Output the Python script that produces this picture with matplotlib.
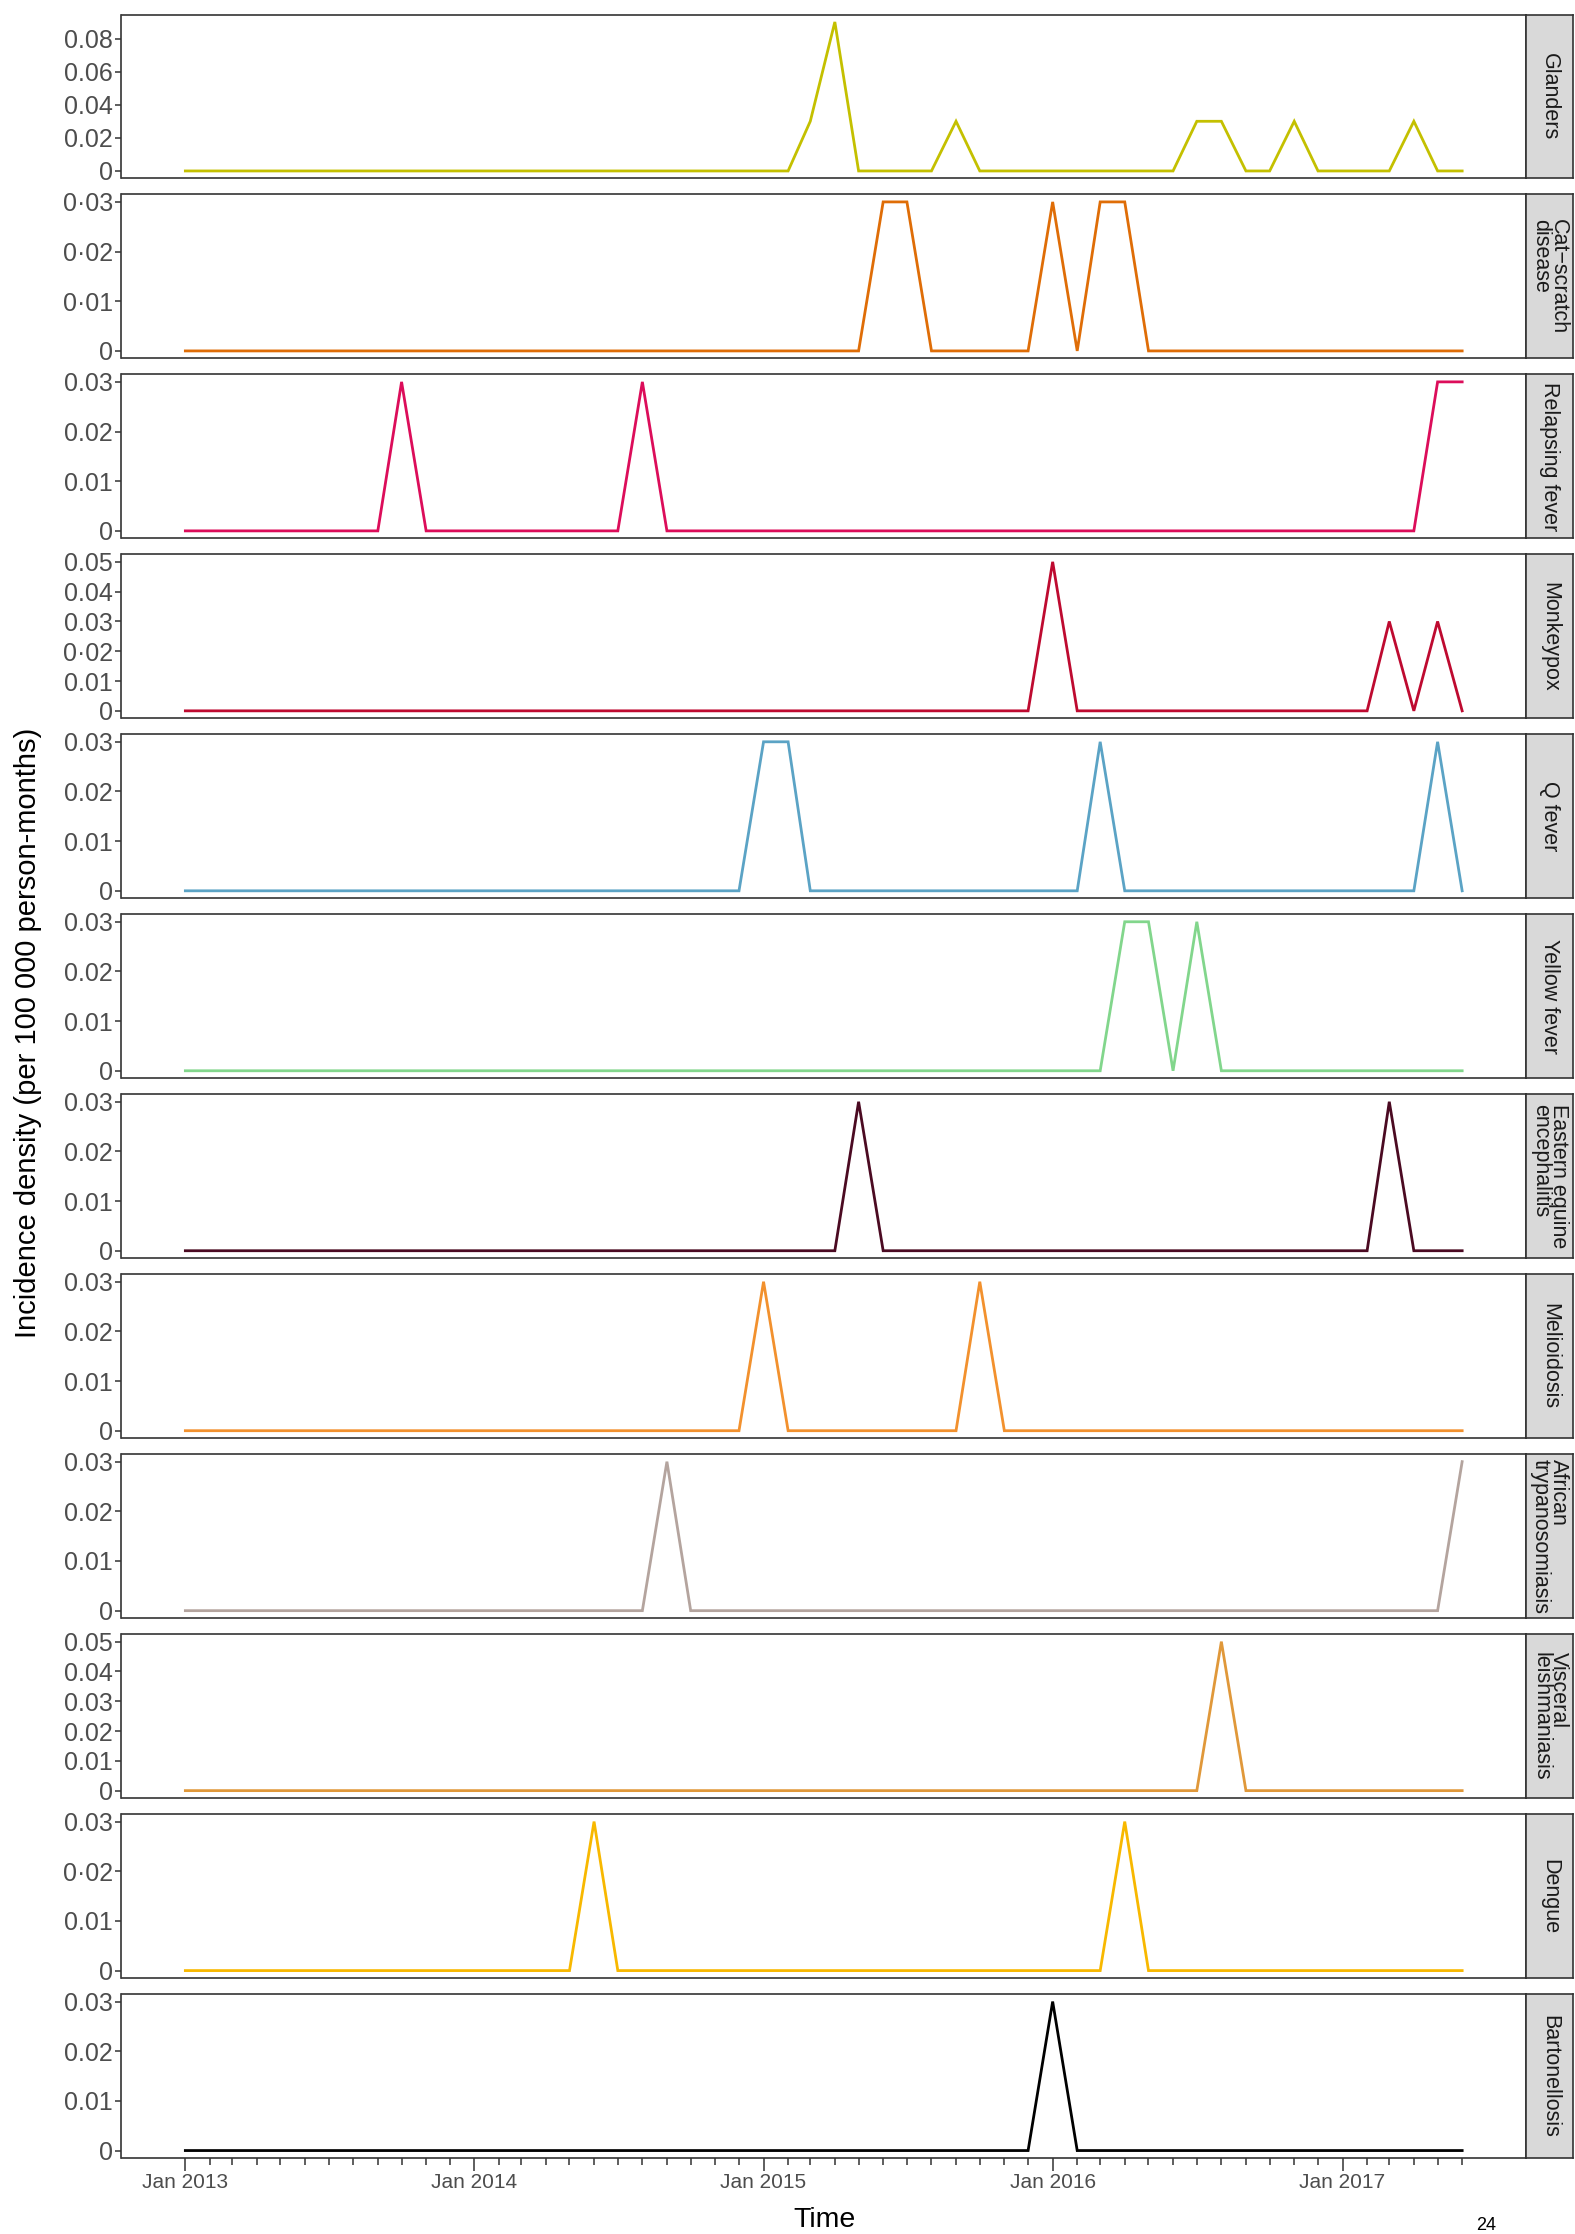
import numpy as np
import pandas as pd
import matplotlib
matplotlib.use("Agg")
import matplotlib.pyplot as plt
import matplotlib.dates as mdates
from matplotlib.ticker import FixedLocator, FixedFormatter, NullLocator

plt.rcParams['font.family'] = ['Liberation Sans', 'DejaVu Sans']

# monthly values, Jan 2013 .. Jun 2017 (one row per year)
glanders = [
    0, 0, 0, 0, 0, 0, 0, 0, 0, 0, 0, 0,
    0, 0, 0, 0, 0, 0, 0, 0, 0, 0, 0, 0,
    0, 0, 0.03, 0.09, 0, 0, 0, 0, 0.03, 0, 0, 0,
    0, 0, 0, 0, 0, 0, 0.03, 0.03, 0, 0, 0.03, 0,
    0, 0, 0, 0.03, 0, 0,
]
cat_scratch = [
    0, 0, 0, 0, 0, 0, 0, 0, 0, 0, 0, 0,
    0, 0, 0, 0, 0, 0, 0, 0, 0, 0, 0, 0,
    0, 0, 0, 0, 0, 0.03, 0.03, 0, 0, 0, 0, 0,
    0.03, 0, 0.03, 0.03, 0, 0, 0, 0, 0, 0, 0, 0,
    0, 0, 0, 0, 0, 0,
]
relapsing = [
    0, 0, 0, 0, 0, 0, 0, 0, 0, 0.03, 0, 0,
    0, 0, 0, 0, 0, 0, 0, 0.03, 0, 0, 0, 0,
    0, 0, 0, 0, 0, 0, 0, 0, 0, 0, 0, 0,
    0, 0, 0, 0, 0, 0, 0, 0, 0, 0, 0, 0,
    0, 0, 0, 0, 0.03, 0.03,
]
monkeypox = [
    0, 0, 0, 0, 0, 0, 0, 0, 0, 0, 0, 0,
    0, 0, 0, 0, 0, 0, 0, 0, 0, 0, 0, 0,
    0, 0, 0, 0, 0, 0, 0, 0, 0, 0, 0, 0,
    0.05, 0, 0, 0, 0, 0, 0, 0, 0, 0, 0, 0,
    0, 0, 0.03, 0, 0.03, 0,
]
q_fever = [
    0, 0, 0, 0, 0, 0, 0, 0, 0, 0, 0, 0,
    0, 0, 0, 0, 0, 0, 0, 0, 0, 0, 0, 0,
    0.03, 0.03, 0, 0, 0, 0, 0, 0, 0, 0, 0, 0,
    0, 0, 0.03, 0, 0, 0, 0, 0, 0, 0, 0, 0,
    0, 0, 0, 0, 0.03, 0,
]
yellow_fever = [
    0, 0, 0, 0, 0, 0, 0, 0, 0, 0, 0, 0,
    0, 0, 0, 0, 0, 0, 0, 0, 0, 0, 0, 0,
    0, 0, 0, 0, 0, 0, 0, 0, 0, 0, 0, 0,
    0, 0, 0, 0.03, 0.03, 0, 0.03, 0, 0, 0, 0, 0,
    0, 0, 0, 0, 0, 0,
]
eee = [
    0, 0, 0, 0, 0, 0, 0, 0, 0, 0, 0, 0,
    0, 0, 0, 0, 0, 0, 0, 0, 0, 0, 0, 0,
    0, 0, 0, 0, 0.03, 0, 0, 0, 0, 0, 0, 0,
    0, 0, 0, 0, 0, 0, 0, 0, 0, 0, 0, 0,
    0, 0, 0.03, 0, 0, 0,
]
melioidosis = [
    0, 0, 0, 0, 0, 0, 0, 0, 0, 0, 0, 0,
    0, 0, 0, 0, 0, 0, 0, 0, 0, 0, 0, 0,
    0.03, 0, 0, 0, 0, 0, 0, 0, 0, 0.03, 0, 0,
    0, 0, 0, 0, 0, 0, 0, 0, 0, 0, 0, 0,
    0, 0, 0, 0, 0, 0,
]
african_tryp = [
    0, 0, 0, 0, 0, 0, 0, 0, 0, 0, 0, 0,
    0, 0, 0, 0, 0, 0, 0, 0, 0.03, 0, 0, 0,
    0, 0, 0, 0, 0, 0, 0, 0, 0, 0, 0, 0,
    0, 0, 0, 0, 0, 0, 0, 0, 0, 0, 0, 0,
    0, 0, 0, 0, 0, 0.03,
]
visceral = [
    0, 0, 0, 0, 0, 0, 0, 0, 0, 0, 0, 0,
    0, 0, 0, 0, 0, 0, 0, 0, 0, 0, 0, 0,
    0, 0, 0, 0, 0, 0, 0, 0, 0, 0, 0, 0,
    0, 0, 0, 0, 0, 0, 0, 0.05, 0, 0, 0, 0,
    0, 0, 0, 0, 0, 0,
]
dengue = [
    0, 0, 0, 0, 0, 0, 0, 0, 0, 0, 0, 0,
    0, 0, 0, 0, 0, 0.03, 0, 0, 0, 0, 0, 0,
    0, 0, 0, 0, 0, 0, 0, 0, 0, 0, 0, 0,
    0, 0, 0, 0.03, 0, 0, 0, 0, 0, 0, 0, 0,
    0, 0, 0, 0, 0, 0,
]
bartonellosis = [
    0, 0, 0, 0, 0, 0, 0, 0, 0, 0, 0, 0,
    0, 0, 0, 0, 0, 0, 0, 0, 0, 0, 0, 0,
    0, 0, 0, 0, 0, 0, 0, 0, 0, 0, 0, 0,
    0.03, 0, 0, 0, 0, 0, 0, 0, 0, 0, 0, 0,
    0, 0, 0, 0, 0, 0,
]

months = pd.date_range("2013-01-01", periods=54, freq="MS")

labels = ["Glanders", "Cat\u2212scratch\ndisease", "Relapsing fever", "Monkeypox",
          "Q fever", "Yellow fever", "Eastern equine\nencephalitis", "Melioidosis",
          "African\ntrypanosomiasis", "Visceral\nleishmaniasis", "Dengue", "Bartonellosis"]
series = [glanders, cat_scratch, relapsing, monkeypox, q_fever, yellow_fever, eee,
          melioidosis, african_tryp, visceral, dengue, bartonellosis]
colors = ["#C4C000", "#DF6D07", "#DC0D5A", "#BE0A30", "#5BA3C5", "#82D68C",
          "#4B0A22", "#F2912E", "#B4A49E", "#E0983A", "#F8B800", "#000000"]

y03 = [0, 0.01, 0.02, 0.03]
y05 = [0, 0.01, 0.02, 0.03, 0.04, 0.05]
yticks = [[0, 0.02, 0.04, 0.06, 0.08], y03, y03, y05, y03, y03, y03, y03, y03, y05, y03, y03]
ylabels = [["0", "0.02", "0.04", "0.06", "0.08"],
           ["0", "0\u00b701", "0\u00b702", "0\u00b703"],
           ["0", "0.01", "0.02", "0.03"],
           ["0", "0.01", "0\u00b702", "0.03", "0.04", "0.05"],
           ["0", "0.01", "0.02", "0.03"],
           ["0", "0.01", "0.02", "0.03"],
           ["0", "0.01", "0.02", "0.03"],
           ["0", "0.01", "0.02", "0.03"],
           ["0", "0.01", "0.02", "0.03"],
           ["0", "0.01", "0.02", "0.03", "0.04", "0.05"],
           ["0", "0.01", "0\u00b702", "0.03"],
           ["0", "0.01", "0.02", "0.03"]]

W, H = 1575, 2234
fig = plt.figure(figsize=(W / 100, H / 100), dpi=100)
gs = fig.add_gridspec(12, 1, left=121.5 / W, right=1526 / W,
                      top=1 - 14.5 / H, bottom=1 - 2158 / H, hspace=0.098)

dark = "#333333"
xnum = mdates.date2num(months)
span = xnum[-1] - xnum[0]
jan_idx = [i for i, m in enumerate(months) if m.month == 1]

for i, (lab, vals, col) in enumerate(zip(labels, series, colors)):
    ax = fig.add_subplot(gs[i])
    ax.plot(months, vals, color=col, lw=2.0, solid_joinstyle="miter")
    top = max(vals)
    ax.set_ylim(-0.05 * top, 1.05 * top)
    ax.set_xlim(xnum[0] - 0.05 * span, xnum[-1] + 0.05 * span)
    ax.yaxis.set_major_locator(FixedLocator(yticks[i]))
    ax.yaxis.set_major_formatter(FixedFormatter(ylabels[i]))
    ax.tick_params(axis="y", length=4, width=1.1, color=dark,
                   labelcolor="#4D4D4D", labelsize=18, pad=2)
    for s in ax.spines.values():
        s.set_color(dark)
        s.set_linewidth(1.2)
    if i < 11:
        ax.xaxis.set_major_locator(NullLocator())
        ax.xaxis.set_minor_locator(NullLocator())
    else:
        ax.xaxis.set_major_locator(FixedLocator(xnum[jan_idx]))
        ax.xaxis.set_major_formatter(FixedFormatter([months[j].strftime("Jan %Y") for j in jan_idx]))
        ax.xaxis.set_minor_locator(FixedLocator(xnum))
        ax.tick_params(axis="x", which="major", length=9, width=1.1, color=dark,
                       labelcolor="#4D4D4D", labelsize=15, pad=2)
        ax.tick_params(axis="x", which="minor", length=5, width=1.1, color=dark)

    # facet strip
    sw = 47 / (1526 - 121.5)
    strip = ax.inset_axes([1.0, 0.0, sw, 1.0])
    strip.set_facecolor("#D9D9D9")
    strip.set_xticks([])
    strip.set_yticks([])
    for s in strip.spines.values():
        s.set_color(dark)
        s.set_linewidth(1.2)
    strip.text(0.5, 0.5, lab, rotation=-90, ha="center", va="center",
               multialignment="left", linespacing=0.8, fontsize=15.5,
               color="#1A1A1A", transform=strip.transAxes)

fig.text(28.5 / W, 1 - 1033 / H, "Incidence density (per 100 000 person-months)",
         rotation=90, ha="center", va="center", fontsize=21, color="black")
fig.text(825 / W, 1 - 2220 / H, "Time", ha="center", va="center", fontsize=20.5, color="black")
fig.text(1486 / W, 1 - 2226 / H, "24", ha="center", va="center", fontsize=13, color="black")

fig.savefig("out.png", dpi=100, facecolor="white")
